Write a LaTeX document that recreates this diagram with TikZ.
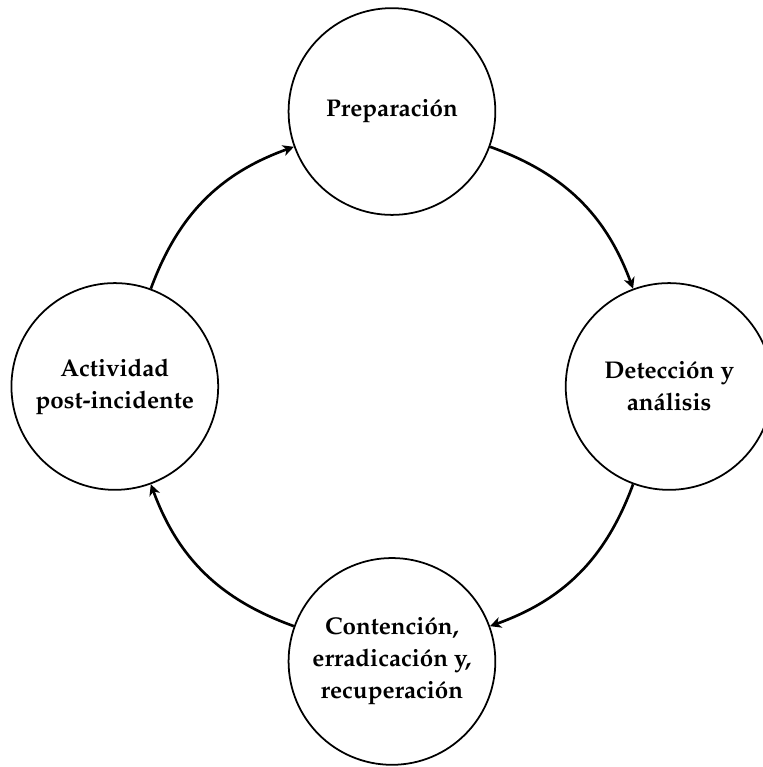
\documentclass[tikz,border=0pt]{standalone}
\usepackage[T1]{fontenc}
\usepackage{mathpazo}
\usepackage{tikz}
\usetikzlibrary{positioning, arrows.meta}

\begin{document}
\begin{tikzpicture}[
  phase/.style={draw, circle, thick, minimum size=94pt, inner sep=0pt, align=center,
    font=\fontsize{11}{14.5}\selectfont\bfseries},
  cycle/.style={-{Stealth[length=5pt, width=5pt, inset=1.5pt]}, very thick, bend left=25}
]
  % Page frame: keeps the margins of the picture
  \useasboundingbox (-178.2pt,-173pt) rectangle (168.6pt,175.7pt);

  % Phases of the cycle, one on each side
  \node (prep)   [phase] at (0pt,125pt)   {Preparación};
  \node (detect) [phase] at (126pt,0pt)   {Detección y\\análisis};
  \node (contain)[phase] at (0pt,-125pt)  {Contención,\\erradicación y,\\recuperación};
  \node (post)   [phase] at (-126pt,0pt)  {Actividad\\post-incidente};

  % Arrows going round clockwise
  \draw[cycle] (prep) to (detect);
  \draw[cycle] (detect) to (contain);
  \draw[cycle] (contain) to (post);
  \draw[cycle] (post) to (prep);
\end{tikzpicture}
\end{document}
